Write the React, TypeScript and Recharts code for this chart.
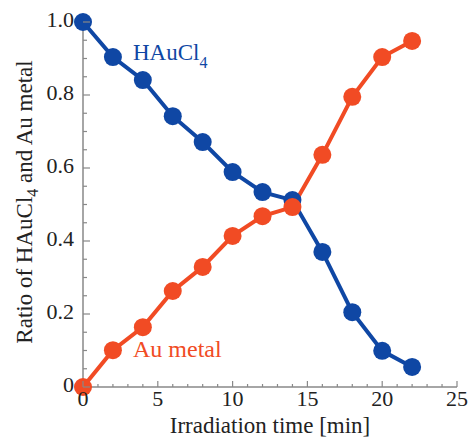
import { LineChart, Line, XAxis, YAxis } from 'recharts';

const times = [0, 2, 4, 6, 8, 10, 12, 14, 16, 18, 20, 22];
const hauCl4 = [1.0, 0.904, 0.841, 0.742, 0.671, 0.589, 0.534, 0.512, 0.37, 0.205, 0.099, 0.055];
const auMetal = [0.0, 0.101, 0.164, 0.263, 0.329, 0.414, 0.468, 0.493, 0.636, 0.795, 0.904, 0.948];

const xTicks = Array.from({ length: 26 }, (_, i) => i);
const xMajor = [0, 5, 10, 15, 20, 25];
const yTicks = Array.from({ length: 21 }, (_, i) => Math.round(i * 5) / 100);
const yMajor = [0, 0.2, 0.4, 0.6, 0.8, 1.0];
const yLabel = (v: number) => (v === 0 ? '0' : v.toFixed(1));

const data = times.map((t, i) => ({ t, hau: hauCl4[i], au: auMetal[i] }));

const BLUE = '#0f47a4';
const RED = '#f14b24';
const AXIS = '#888';
const FONT = '"Liberation Serif", "Times New Roman", serif';

const isMajor = (list: number[], v: number) => list.some((m) => Math.abs(m - v) < 1e-6);

function BottomTick(props: any) {
  const { x, y, payload } = props;
  const major = isMajor(xMajor, payload.value);
  return (
    <g>
      <line x1={x} y1={y} x2={x} y2={y - (major ? 6 : 3)} stroke={AXIS} strokeWidth={1.2} />
      {major && (
        <text x={x} y={y + 19} textAnchor="middle" fontFamily={FONT} fontSize={22} fill="#222">
          {payload.value}
        </text>
      )}
    </g>
  );
}

function TopTick(props: any) {
  const { x, y, payload } = props;
  const major = isMajor(xMajor, payload.value);
  return <line x1={x} y1={y} x2={x} y2={y + (major ? 6 : 3)} stroke={AXIS} strokeWidth={1.2} />;
}

function LeftTick(props: any) {
  const { x, y, payload } = props;
  const major = isMajor(yMajor, payload.value);
  return (
    <g>
      <line x1={x} y1={y} x2={x + (major ? 7 : 4)} y2={y} stroke={AXIS} strokeWidth={1.2} />
      {major && (
        <text x={x - 9} y={y + 5} textAnchor="end" fontFamily={FONT} fontSize={22} fill="#222">
          {yLabel(payload.value)}
        </text>
      )}
    </g>
  );
}

function RightTick(props: any) {
  const { x, y, payload } = props;
  const major = isMajor(yMajor, payload.value);
  return <line x1={x} y1={y} x2={x - (major ? 7 : 4)} y2={y} stroke={AXIS} strokeWidth={1.2} />;
}

export default function App() {
  return (
    <div style={{ position: 'absolute', left: 0, top: 0, width: 469, height: 437, background: '#fff' }}>
      <LineChart width={469} height={437} data={data} margin={{ top: 22, right: 12, bottom: 0, left: 0 }}>
        <XAxis
          dataKey="t"
          type="number"
          domain={[0, 25]}
          ticks={xTicks}
          interval={0}
          height={50}
          tickSize={0}
          tickMargin={0}
          tickLine={false}
          axisLine={{ stroke: AXIS, strokeWidth: 1.5 }}
          tick={<BottomTick />}
        />
        <XAxis
          xAxisId="top"
          orientation="top"
          dataKey="t"
          type="number"
          domain={[0, 25]}
          ticks={xTicks}
          interval={0}
          height={0}
          tickSize={0}
          tickMargin={0}
          tickLine={false}
          axisLine={{ stroke: AXIS, strokeWidth: 1.5 }}
          tick={<TopTick />}
        />
        <YAxis
          type="number"
          domain={[0, 1]}
          ticks={yTicks}
          interval={0}
          width={83}
          tickSize={0}
          tickMargin={0}
          tickLine={false}
          axisLine={{ stroke: AXIS, strokeWidth: 1.5 }}
          tick={<LeftTick />}
        />
        <YAxis
          yAxisId="right"
          orientation="right"
          type="number"
          domain={[0, 1]}
          ticks={yTicks}
          interval={0}
          width={0}
          tickSize={0}
          tickMargin={0}
          tickLine={false}
          axisLine={{ stroke: AXIS, strokeWidth: 1.5 }}
          tick={<RightTick />}
        />
        <Line
          dataKey="hau"
          stroke={BLUE}
          strokeWidth={4}
          dot={{ r: 9, fill: BLUE, stroke: 'none' }}
          activeDot={false}
          isAnimationActive={false}
        />
        <Line
          dataKey="au"
          stroke={RED}
          strokeWidth={4}
          dot={{ r: 9, fill: RED, stroke: 'none' }}
          activeDot={false}
          isAnimationActive={false}
        />
      </LineChart>
      <svg
        width={469}
        height={437}
        style={{ position: 'absolute', left: 0, top: 0, pointerEvents: 'none' }}
        fontFamily={FONT}
      >
        <text x={270} y={433} textAnchor="middle" fontSize={23} fill="#222">
          Irradiation time [min]
        </text>
        <text transform="translate(32,202) rotate(-90)" textAnchor="middle" fontSize={23} fill="#222">
          Ratio of HAuCl<tspan fontSize={16} dy={6}>4</tspan>
          <tspan dy={-6}> and Au metal</tspan>
        </text>
        <text x={133} y={60} fontSize={23} fill={BLUE}>
          HAuCl<tspan fontSize={16} dy={8}>4</tspan>
        </text>
        <text x={133} y={357} fontSize={24} fill={RED}>
          Au metal
        </text>
      </svg>
    </div>
  );
}
